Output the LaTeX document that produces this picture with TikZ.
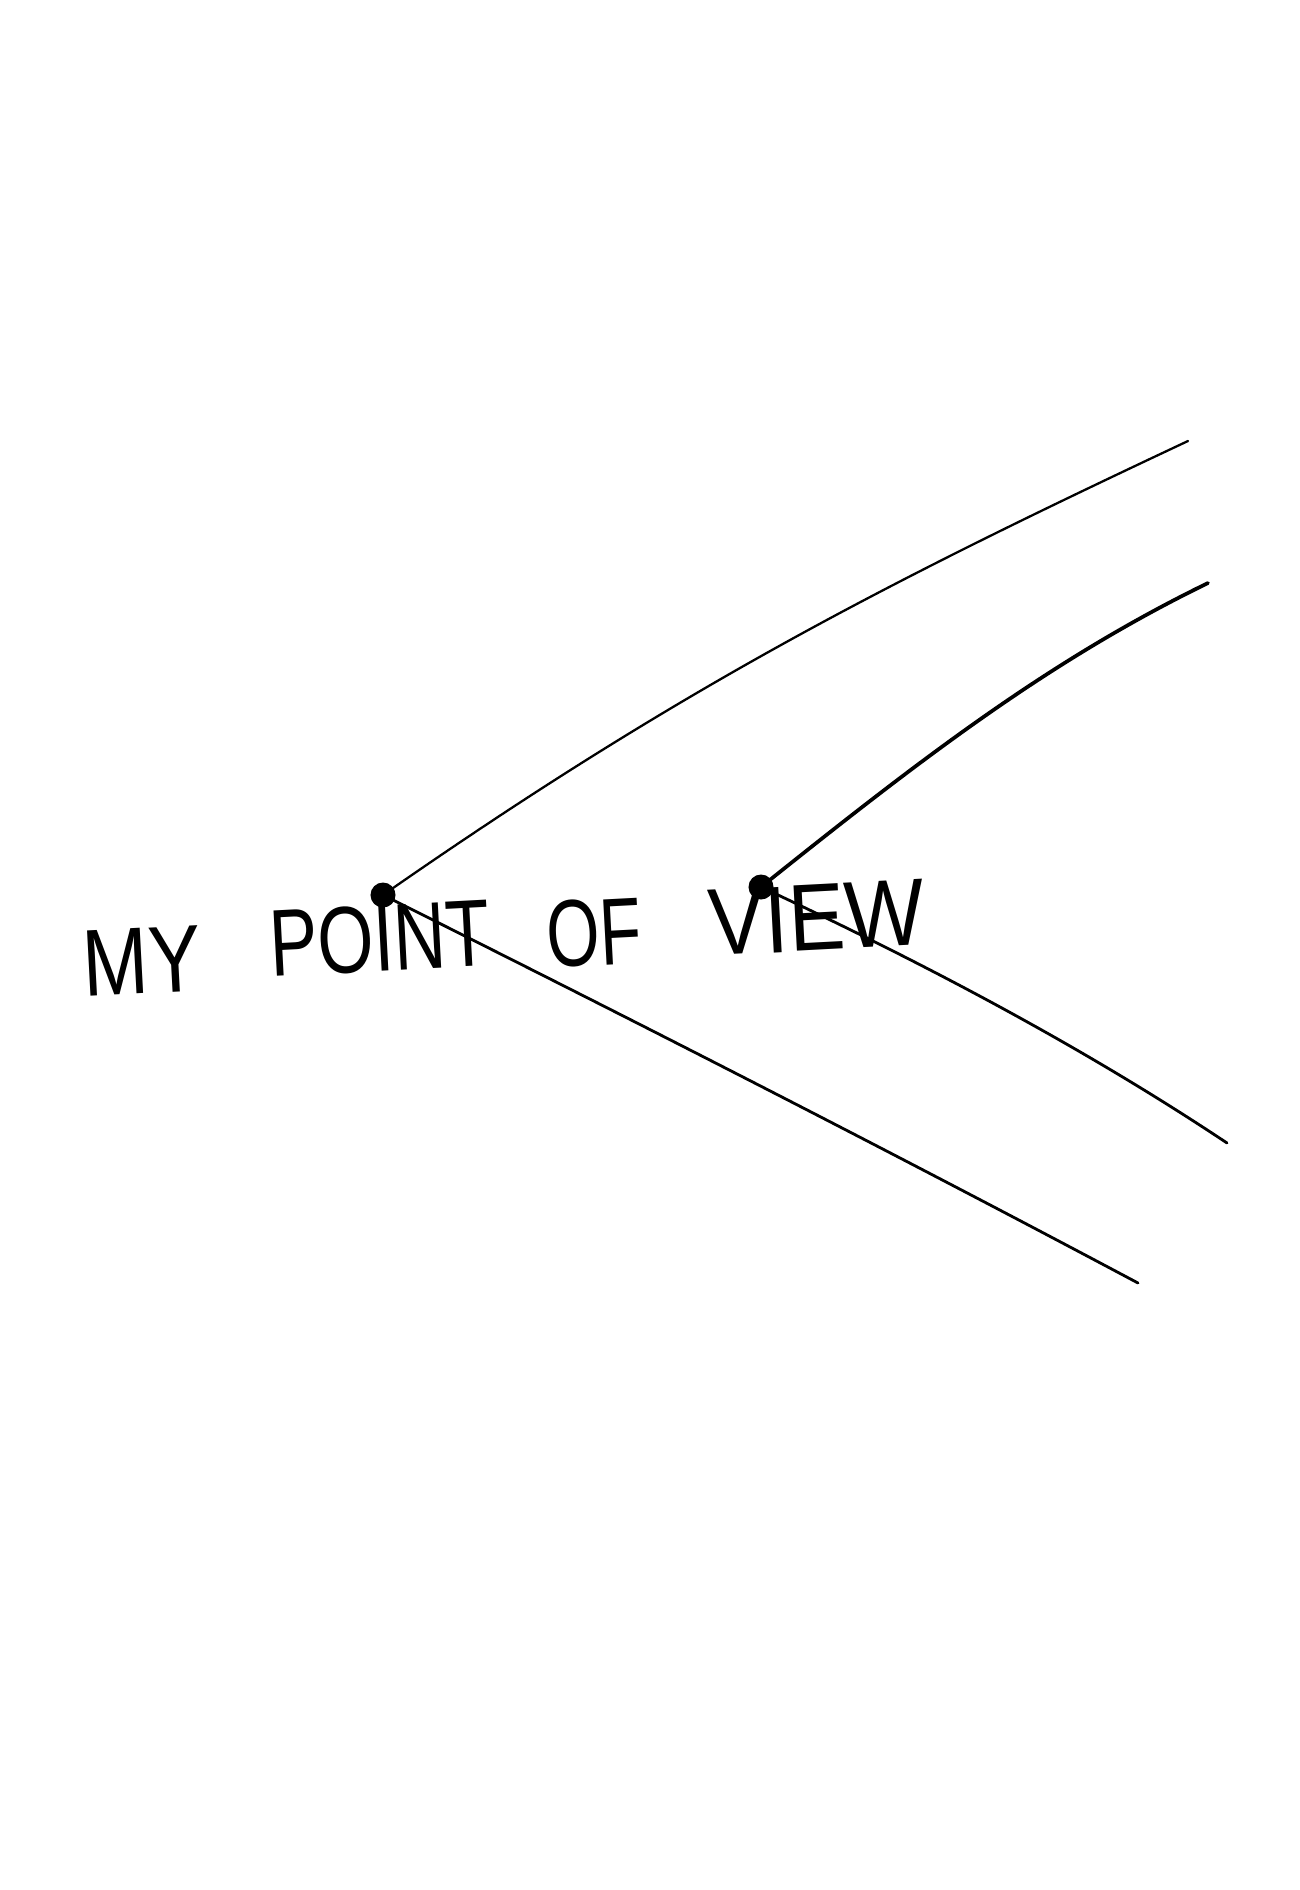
\documentclass[tikz,border=0pt]{standalone}
\usepackage{fontspec}
\setmainfont{Liberation Sans}
\begin{document}
\begin{tikzpicture}[x=0.01cm,y=-0.01cm,
  hand/.style={line width=0.8pt,line cap=round,black},
  dotmark/.style={circle,fill=black,inner sep=0pt,minimum size=0.25cm},
  word/.style={anchor=base west,inner sep=0pt,rotate=3,font=\fontsize{27}{31}\selectfont}]
\useasboundingbox (0,0) rectangle (1300,1890);
\fill[white] (0,0) rectangle (1300,1890);
% words
\node[word] (w1) at (84,997) {\scalebox{0.83}[1]{MY}};
\node[word] (w2) at (271,977) {\scalebox{0.76}[1]{POINT}};
\node[word] (w3) at (548,968) {\scalebox{0.72}[1]{OF}};
\node[word] (w4) at (710,956) {\scalebox{0.89}[1]{VIEW}};
% points
\node[dotmark] (p1) at (383,895) {};
\node[dotmark] (p2) at (761,887) {};
\coordinate (e1) at (1188,441);
\coordinate (e2) at (1208,583);
\coordinate (e3) at (1138,1283);
\coordinate (e4) at (1227,1143);
\draw[hand,line width=0.65pt] (p1.center) .. controls (683,686) and (888,582) .. (e1);
\draw[hand,line width=1.05pt] (p2.center) .. controls (921,759) and (1048,661) .. (e2);
\draw[hand,line width=0.8pt] (p1.center) .. controls (633,1020) and (888,1150) .. (e3);
\draw[hand,line width=0.8pt] (p2.center) .. controls (913,958) and (1077,1043) .. (e4);
\end{tikzpicture}
\end{document}
